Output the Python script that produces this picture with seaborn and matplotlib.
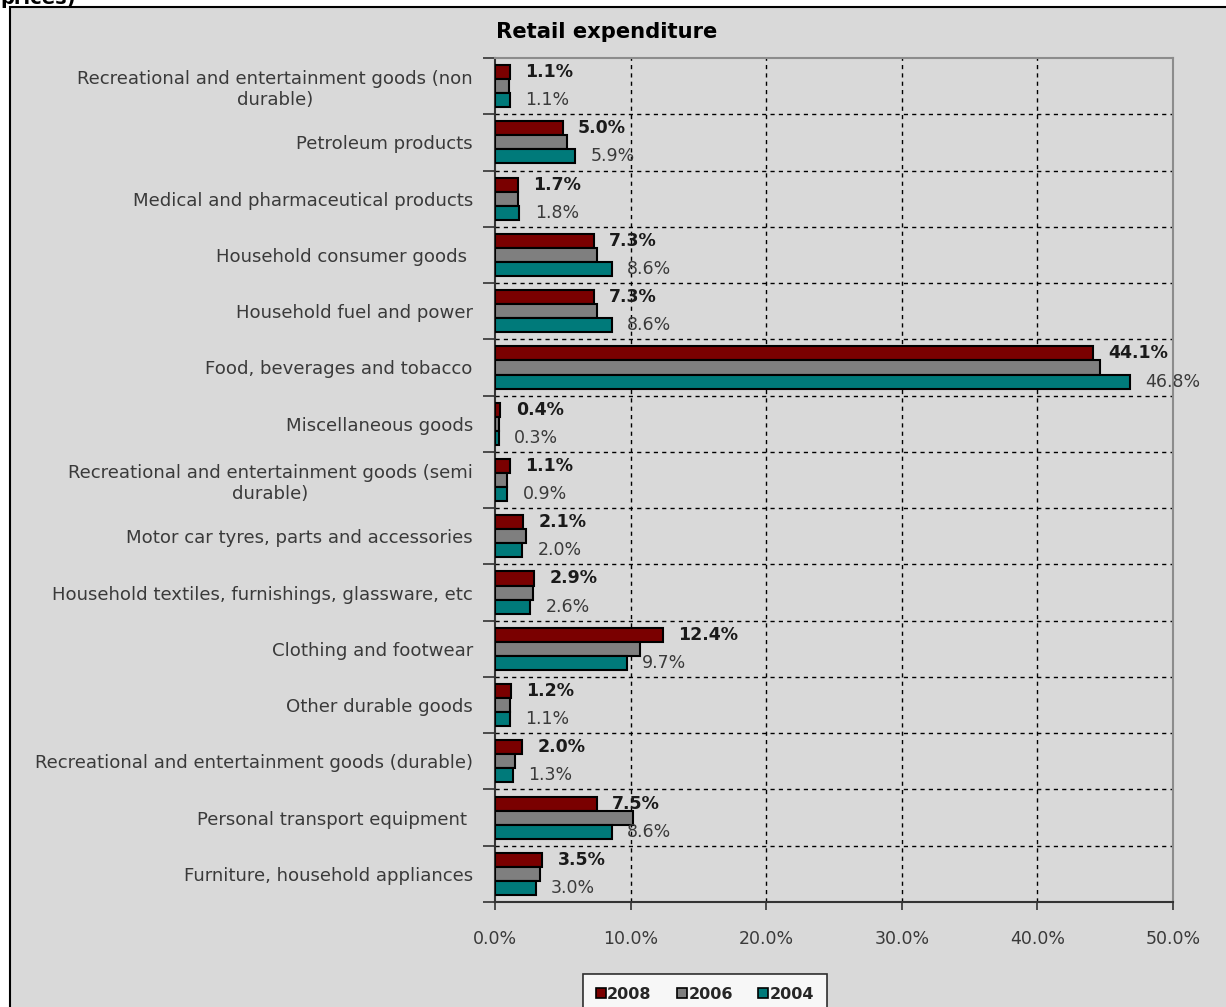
import matplotlib
matplotlib.use("Agg")
import matplotlib.pyplot as plt
from matplotlib.patches import Rectangle, Patch
import numpy as np
import pandas as pd
import seaborn as sns

categories = [
    "Recreational and entertainment goods (non\ndurable)",
    "Petroleum products",
    "Medical and pharmaceutical products",
    "Household consumer goods ",
    "Household fuel and power",
    "Food, beverages and tobacco",
    "Miscellaneous goods",
    "Recreational and entertainment goods (semi\ndurable)",
    "Motor car tyres, parts and accessories",
    "Household textiles, furnishings, glassware, etc",
    "Clothing and footwear",
    "Other durable goods",
    "Recreational and entertainment goods (durable)",
    "Personal transport equipment ",
    "Furniture, household appliances",
]
years = ["2008", "2006", "2004"]
share_2008 = [1.1, 5.0, 1.7, 7.3, 7.3, 44.1, 0.4, 1.1, 2.1, 2.9, 12.4, 1.2, 2.0, 7.5, 3.5]
share_2006 = [1.0, 5.3, 1.7, 7.5, 7.5, 44.6, 0.3, 0.9, 2.3, 2.8, 10.7, 1.1, 1.5, 10.2, 3.3]
share_2004 = [1.1, 5.9, 1.8, 8.6, 8.6, 46.8, 0.3, 0.9, 2.0, 2.6, 9.7, 1.1, 1.3, 8.6, 3.0]
x_ticks = [0, 10, 20, 30, 40, 50]

colors = {"2008": "#7A0000", "2006": "#7F7F7F", "2004": "#007A7A"}
bg = "#D9D9D9"

df = pd.DataFrame({
    "category": categories * 3,
    "year": [y for y in years for _ in categories],
    "share": share_2008 + share_2006 + share_2004,
})

sns.set_theme(style="white")
plt.rcParams["font.family"] = ["DejaVu Sans"]

fig = plt.figure(figsize=(12.26, 10.07), dpi=100, facecolor="white")
fig.patches.append(Rectangle((10 / 1226, -0.02), 1.1, 1 - 7 / 1007 + 0.02,
                             transform=fig.transFigure, facecolor=bg,
                             edgecolor="black", linewidth=1.5, zorder=-10))
fig.text(0.0, 1 - 4 / 1007, "prices)", fontsize=14, fontweight="bold",
         ha="left", va="baseline", color="black")

ax = fig.add_axes([495 / 1226, 1 - 902 / 1007, (1173 - 495) / 1226, (902 - 58) / 1007])
ax.set_facecolor("none")

sns.barplot(data=df, y="category", x="share", hue="year", hue_order=years,
            order=categories, orient="h", palette=colors, width=0.75,
            edgecolor="black", linewidth=1.5, saturation=1, legend=False, ax=ax,
            zorder=3)

# value labels for 2008 (bold) and 2004 (regular)
ax.bar_label(ax.containers[0], labels=[f"{v:.1f}%" for v in share_2008],
             padding=11, fontsize=12.5, fontweight="bold", color="#1a1a1a", zorder=5)
ax.bar_label(ax.containers[2], labels=[f"{v:.1f}%" for v in share_2004],
             padding=11, fontsize=12.5, color="#3a3a3a", zorder=5)

ax.set_xlim(0, 50)
ax.set_ylim(len(categories) - 0.5, -0.5)
ax.set_xticks(x_ticks)
ax.set_xticklabels([f"{t:.1f}%" for t in x_ticks], fontsize=12.5, color="#3a3a3a")
ax.set_yticks(range(len(categories)))
ax.set_yticklabels(categories, fontsize=13.1, color="#3a3a3a", multialignment="center")
ax.tick_params(axis="y", which="major", length=0, pad=16)
ax.tick_params(axis="x", which="major", length=6, width=1.2, color="#333333",
               direction="out", pad=14, bottom=True)
ax.set_yticks(np.arange(-0.5, len(categories), 1), minor=True)
ax.tick_params(axis="y", which="minor", length=9, width=1.2, color="#333333",
               direction="out", left=True)
ax.set_xlabel("")
ax.set_ylabel("")

for xv in x_ticks[1:-1]:
    ax.axvline(xv, color="black", linestyle=(0, (3, 3)), linewidth=1, zorder=1)
for yb in np.arange(0.5, len(categories) - 1, 1):
    ax.axhline(yb, color="black", linestyle=(0, (3, 3)), linewidth=1, zorder=1)

for side in ["left", "bottom"]:
    ax.spines[side].set_color("#333333")
    ax.spines[side].set_linewidth(1.5)
for side in ["top", "right"]:
    ax.spines[side].set_visible(True)
    ax.spines[side].set_color("#8C8C8C")
    ax.spines[side].set_linewidth(1.5)

fig.text(607 / 1226, 1 - 32 / 1007, "Retail expenditure", fontsize=15.2,
         fontweight="bold", ha="center", va="center", color="black")

handles = [Patch(facecolor=colors[y], edgecolor="black", linewidth=1.2, label=y) for y in years]
leg = fig.legend(handles=handles, loc="upper center", ncol=3,
                 bbox_to_anchor=(705 / 1226, 1 - 974 / 1007), borderaxespad=0,
                 frameon=True, fancybox=False, handlelength=0.6, handleheight=0.6,
                 handletextpad=0.1, columnspacing=1.6, borderpad=0.8,
                 prop={"weight": "bold", "size": 11.5})
leg.get_frame().set_edgecolor("black")
leg.get_frame().set_facecolor("white")
leg.get_frame().set_linewidth(1.2)

fig.savefig("out.png", dpi=100, facecolor="white")
